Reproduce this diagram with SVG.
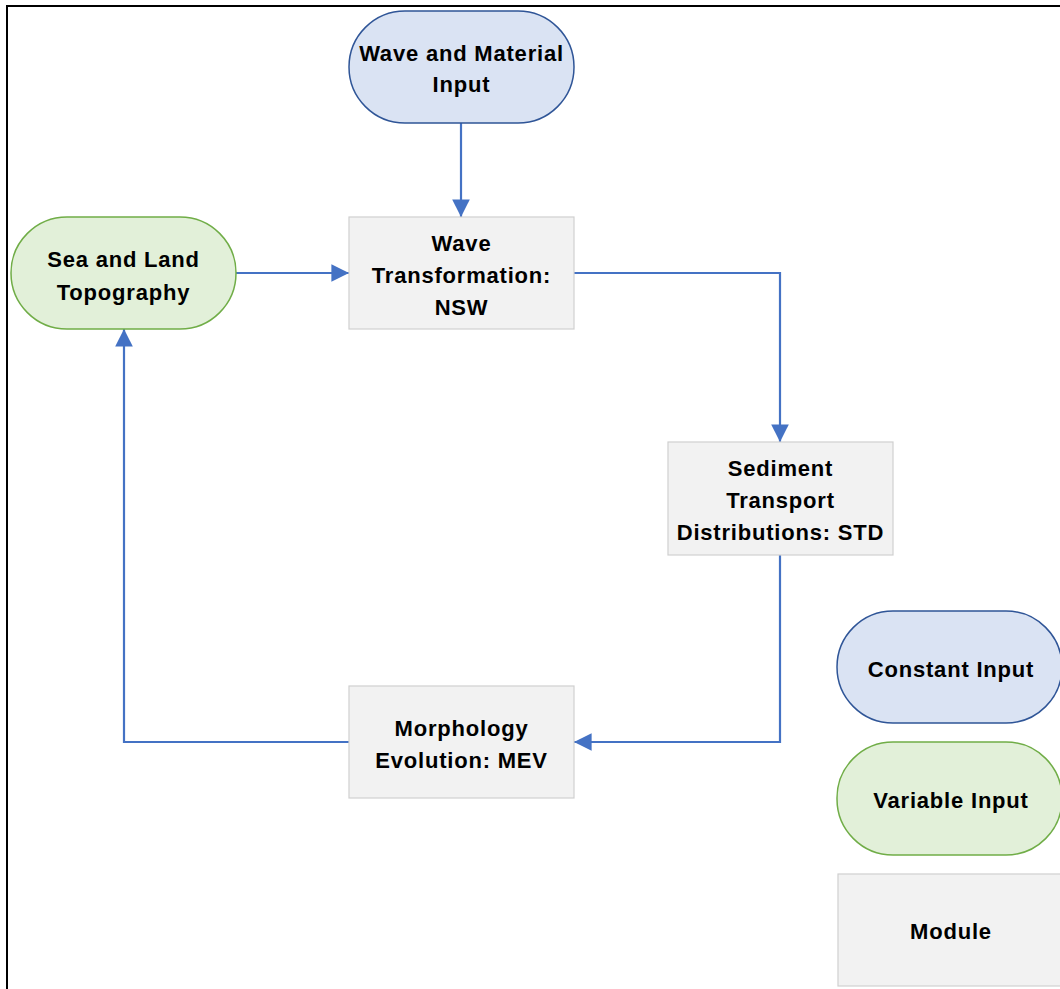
<svg xmlns="http://www.w3.org/2000/svg" width="1060" height="989" viewBox="0 0 1060 989">
<defs>
<marker id="arr" viewBox="0 0 10 10" refX="10" refY="5" markerWidth="8" markerHeight="8" markerUnits="strokeWidth" orient="auto">
<path d="M0,0 L10,5 L0,10 z" fill="#4472c4"/>
</marker>
<style>
.const{fill:#dae3f3;stroke:#2f5597;stroke-width:1.5}
.var{fill:#e2f0d9;stroke:#70ad47;stroke-width:1.5}
.mod{fill:#f2f2f2;stroke:#d0d0d0;stroke-width:1.2}
.t{font-family:"Liberation Sans",Arial,sans-serif;font-weight:bold;font-size:22px;fill:#000;text-anchor:middle;letter-spacing:0.8px}
.c{fill:none;stroke:#4472c4;stroke-width:2.2}
.frame{fill:none;stroke:#000;stroke-width:2}
</style>
</defs>
<rect width="1060" height="989" fill="#fff"/>
<path class="frame" d="M7,989 V6 H1060"/>
<g id="connectors">
<path class="c" d="M461,123 V217" marker-end="url(#arr)"/>
<path class="c" d="M236,273 H349" marker-end="url(#arr)"/>
<path class="c" d="M574,273 H780 V442" marker-end="url(#arr)"/>
<path class="c" d="M780,555 V742 H574" marker-end="url(#arr)"/>
<path class="c" d="M349,742 H124 V329" marker-end="url(#arr)"/>
</g>
<g id="wave-material-input">
<rect class="const" x="349" y="11" width="225" height="112" rx="56" ry="56"/>
<text class="t" x="461.5" y="61">Wave and Material</text>
<text class="t" x="461.5" y="92">Input</text>
</g>
<g id="sea-land-topography">
<rect class="var" x="11" y="217" width="225" height="112" rx="56" ry="56"/>
<text class="t" x="123.5" y="267">Sea and Land</text>
<text class="t" x="123.5" y="300">Topography</text>
</g>
<g id="nsw">
<rect class="mod" x="349" y="217" width="225" height="112"/>
<text class="t" x="461.5" y="251">Wave</text>
<text class="t" x="461.5" y="283">Transformation:</text>
<text class="t" x="461.5" y="315">NSW</text>
</g>
<g id="std">
<rect class="mod" x="668" y="442" width="225" height="113"/>
<text class="t" x="780.5" y="476">Sediment</text>
<text class="t" x="780.5" y="508">Transport</text>
<text class="t" x="780.5" y="540">Distributions: STD</text>
</g>
<g id="mev">
<rect class="mod" x="349" y="686" width="225" height="112"/>
<text class="t" x="461.5" y="736">Morphology</text>
<text class="t" x="461.5" y="768">Evolution: MEV</text>
</g>
<g id="legend-constant">
<rect class="const" x="837" y="611" width="225" height="112" rx="56" ry="56"/>
<text class="t" x="951" y="677">Constant Input</text>
</g>
<g id="legend-variable">
<rect class="var" x="837" y="742" width="225" height="113" rx="56" ry="56"/>
<text class="t" x="951" y="808">Variable Input</text>
</g>
<g id="legend-module">
<rect class="mod" x="838" y="874" width="225" height="112"/>
<text class="t" x="951" y="939">Module</text>
</g>
</svg>
